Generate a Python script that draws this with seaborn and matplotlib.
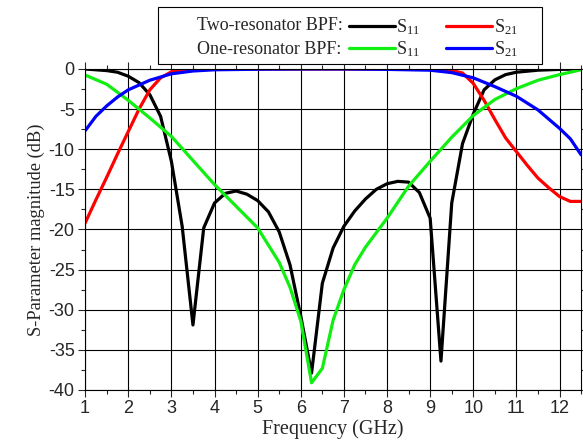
import numpy as np
import pandas as pd
import seaborn as sns
import matplotlib.pyplot as plt
from matplotlib.lines import Line2D
from matplotlib.patches import Rectangle
from matplotlib.ticker import MultipleLocator

# two-resonator BPF
f_two_s11 = [1.0, 1.5, 1.75, 2.0, 2.25, 2.5, 2.75, 3.0, 3.25, 3.5, 3.75, 4.0, 4.25, 4.5,
             4.75, 5.0, 5.25, 5.5, 5.75, 6.0, 6.25, 6.5, 6.75, 7.0, 7.25, 7.5, 7.75, 8.0,
             8.25, 8.5, 8.75, 9.0, 9.25, 9.5, 9.75, 10.0, 10.25, 10.5, 10.75, 11.0, 11.5,
             12.0, 12.5]
two_s11 = [0.0, -0.2, -0.4, -0.9, -1.7, -3.2, -5.9, -11.5, -19.6, -31.9, -19.8, -16.7,
           -15.5, -15.2, -15.6, -16.4, -17.8, -20.3, -24.4, -30.8, -37.9, -26.7, -22.3,
           -19.6, -17.7, -16.2, -15.0, -14.3, -14.0, -14.1, -15.4, -18.6, -36.4, -16.7,
           -9.3, -5.6, -2.6, -1.35, -0.7, -0.4, -0.15, -0.05, 0.0]

f_two_s21 = [1.0, 1.25, 1.5, 1.75, 2.0, 2.25, 2.5, 2.75, 3.0, 3.25, 3.5, 4.0, 5.0, 6.0,
             7.0, 8.0, 9.0, 9.25, 9.5, 9.75, 10.0, 10.25, 10.5, 10.75, 11.0, 11.25, 11.5,
             11.75, 12.0, 12.25, 12.5]
two_s21 = [-19.2, -16.3, -13.5, -10.6, -7.8, -5.0, -2.6, -1.1, -0.35, -0.05, 0.0, 0.0,
           0.0, 0.0, 0.0, 0.0, 0.0, 0.05, -0.2, -0.5, -1.8, -3.9, -6.3, -8.6, -10.3,
           -12.0, -13.6, -14.8, -15.9, -16.5, -16.5]

# one-resonator BPF
f_one_s11 = [1.0, 1.5, 2.0, 2.5, 3.0, 3.5, 4.0, 4.5, 5.0, 5.5, 5.75, 6.0, 6.25, 6.5,
             6.75, 7.0, 7.25, 7.5, 8.0, 8.5, 9.0, 9.5, 10.0, 10.5, 11.0, 11.5, 12.0, 12.5]
one_s11 = [-0.75, -1.9, -3.9, -6.1, -8.4, -11.4, -14.4, -17.1, -19.8, -24.1, -27.2,
           -31.4, -39.1, -37.3, -31.3, -27.5, -24.4, -22.2, -18.6, -14.6, -11.5, -8.5,
           -5.8, -3.8, -2.45, -1.4, -0.7, -0.1]

f_one_s21 = [1.0, 1.25, 1.5, 1.75, 2.0, 2.5, 3.0, 3.5, 4.0, 5.0, 6.0, 7.0, 8.0, 9.0,
             9.5, 10.0, 10.5, 11.0, 11.5, 12.0, 12.25, 12.5]
one_s21 = [-7.7, -5.9, -4.6, -3.5, -2.6, -1.4, -0.6, -0.25, -0.1, -0.03, 0.0, 0.0,
           -0.05, -0.15, -0.45, -1.1, -2.2, -3.4, -5.1, -7.4, -8.7, -10.7]

sns.set_style("ticks")
plt.rcParams['font.family'] = ['Liberation Serif', 'DejaVu Serif']
plt.rcParams['mathtext.fontset'] = 'custom'
plt.rcParams['mathtext.rm'] = 'Liberation Serif'
plt.rcParams['mathtext.it'] = 'Liberation Serif:italic'
plt.rcParams['axes.unicode_minus'] = False

fig = plt.figure(figsize=(5.83, 4.46), dpi=100)
ax = fig.add_axes([0.146, 0.1256, 0.8508, 0.7197])

lw = 2.3
green = '#11ee11'
sns.lineplot(x=f_two_s11, y=two_s11, color='black', linewidth=lw, ax=ax)
sns.lineplot(x=f_two_s21, y=two_s21, color='red', linewidth=lw, ax=ax)
sns.lineplot(x=f_one_s11, y=one_s11, color=green, linewidth=lw, ax=ax)
sns.lineplot(x=f_one_s21, y=one_s21, color='blue', linewidth=lw, ax=ax)

ax.set_xlim(1, 12.5)
ax.set_ylim(-40, 0)
ax.xaxis.set_major_locator(MultipleLocator(1))
ax.xaxis.set_minor_locator(MultipleLocator(0.5))
ax.yaxis.set_major_locator(MultipleLocator(5))
ax.yaxis.set_minor_locator(MultipleLocator(2.5))
ax.grid(True, which='major', color='black', linewidth=0.8)
ax.tick_params(which='both', direction='out', top=True, right=True, width=0.8)
ax.tick_params(which='major', length=5, pad=2.5)
ax.tick_params(which='minor', length=3)
for lab in ax.get_xticklabels() + ax.get_yticklabels():
    lab.set_fontfamily('Liberation Sans')
    lab.set_fontsize(13)
for sp in ax.spines.values():
    sp.set_linewidth(0.8)
    sp.set_color('black')

ax.set_xlabel('Frequency (GHz)', fontsize=14.5, labelpad=1)
ax.set_ylabel('S-Parameter magnitude (dB)', fontsize=13.3, labelpad=3)

# legend box
fig.patches.append(Rectangle((0.271, 0.8565), 0.658, 0.127, transform=fig.transFigure,
                             facecolor='white', edgecolor='black', linewidth=0.8))
fig.text(0.338, 0.943, 'Two-resonator BPF:', fontsize=13, va='center', ha='left')
fig.text(0.338, 0.889, 'One-resonator BPF:', fontsize=13, va='center', ha='left')

handles = [Line2D([], [], color='black', lw=lw), Line2D([], [], color=green, lw=lw),
           Line2D([], [], color='red', lw=lw), Line2D([], [], color='blue', lw=lw)]
labels = ['S$_{11}$', 'S$_{11}$', 'S$_{21}$', 'S$_{21}$']
fig.legend(handles, labels, loc='center left', bbox_to_anchor=(0.598, 0.915),
           ncol=2, frameon=False, fontsize=13, handlelength=2.55, handletextpad=0.1,
           columnspacing=1.4, labelspacing=0.15, borderpad=0, borderaxespad=0)

fig.savefig('out.png', dpi=100)
